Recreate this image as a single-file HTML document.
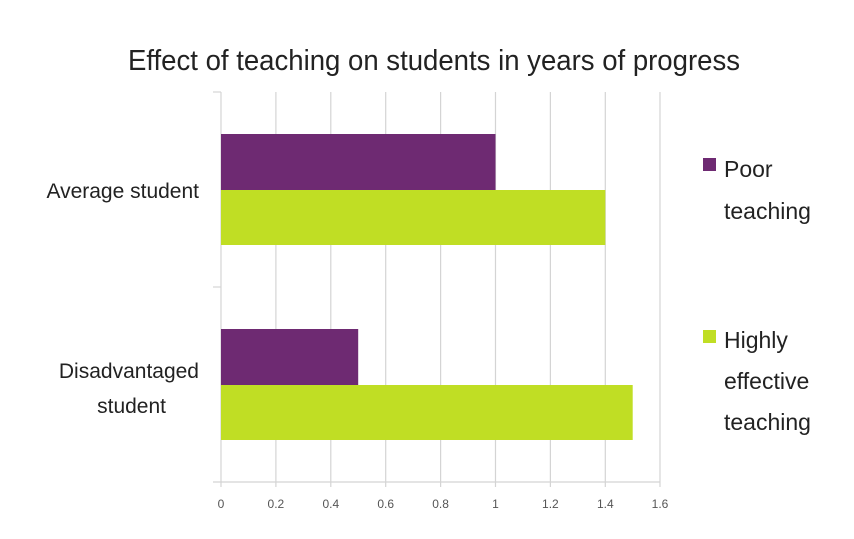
<!DOCTYPE html>
<html><head><style>
body{margin:0;background:#fff;}
svg text{font-family:"Liberation Sans",sans-serif;}
</style></head><body>
<svg width="854" height="534" xmlns="http://www.w3.org/2000/svg">
<rect width="854" height="534" fill="#fff"/>
<text x="434" y="70" font-size="29" text-anchor="middle" fill="#222" textLength="612" lengthAdjust="spacingAndGlyphs">Effect of teaching on students in years of progress</text>
<g stroke="#d4d4d4" stroke-width="1.2">
<line x1="275.9" y1="92" x2="275.9" y2="487"/>
<line x1="330.8" y1="92" x2="330.8" y2="487"/>
<line x1="385.7" y1="92" x2="385.7" y2="487"/>
<line x1="440.6" y1="92" x2="440.6" y2="487"/>
<line x1="495.5" y1="92" x2="495.5" y2="487"/>
<line x1="550.4" y1="92" x2="550.4" y2="487"/>
<line x1="605.3" y1="92" x2="605.3" y2="487"/>
<line x1="660" y1="92" x2="660" y2="487"/>
<line x1="221" y1="92" x2="221" y2="487"/>
<line x1="213" y1="482" x2="660" y2="482"/>
<line x1="213" y1="92" x2="221" y2="92"/>
<line x1="213" y1="287" x2="221" y2="287"/>
</g>
<rect x="221" y="134" width="274.5" height="56" fill="#6e2a72"/>
<rect x="221" y="190" width="384.3" height="55" fill="#c0de24"/>
<rect x="221" y="329" width="137.2" height="56" fill="#6e2a72"/>
<rect x="221" y="385" width="411.7" height="55" fill="#c0de24"/>
<g font-size="12" fill="#555" text-anchor="middle">
<text x="221" y="508">0</text><text x="275.9" y="508">0.2</text><text x="330.8" y="508">0.4</text><text x="385.7" y="508">0.6</text><text x="440.6" y="508">0.8</text><text x="495.5" y="508">1</text><text x="550.4" y="508">1.2</text><text x="605.3" y="508">1.4</text><text x="660" y="508">1.6</text>
</g>
<g font-size="21" fill="#222" text-anchor="end">
<text x="199" y="198">Average student</text>
<text x="199" y="378">Disadvantaged</text>
<text x="166" y="413">student</text>
</g>
<rect x="703" y="158" width="13" height="13" fill="#6e2a72"/>
<rect x="703" y="330" width="13" height="13" fill="#c0de24"/>
<g font-size="23" fill="#222">
<text x="724" y="177">Poor</text>
<text x="724" y="219">teaching</text>
<text x="724" y="348">Highly</text>
<text x="724" y="389">effective</text>
<text x="724" y="430">teaching</text>
</g>
</svg>
</body></html>
